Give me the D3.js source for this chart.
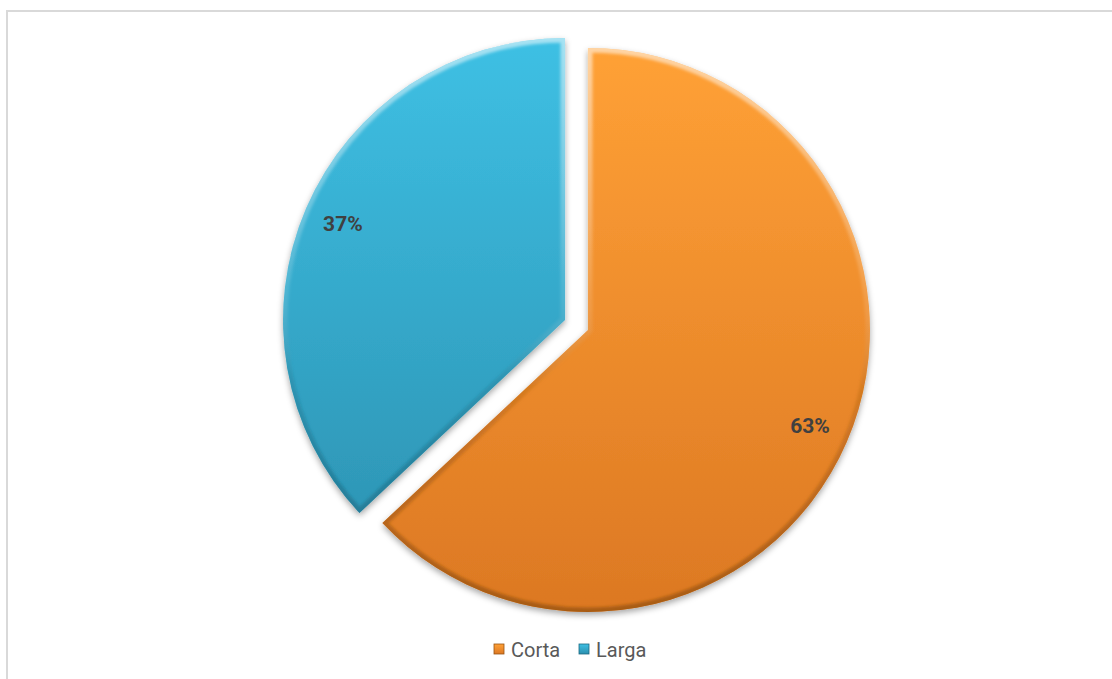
<!DOCTYPE html>
<html>
<head>
<meta charset="utf-8">
<script src="https://cdn.jsdelivr.net/npm/d3@7"></script>
<style>
  html, body { margin: 0; padding: 0; background: #fff; }
  svg { display: block; }
  .lbl { font-family: Roboto, "Liberation Sans", sans-serif; }
</style>
</head>
<body>
<svg id="chart" width="1112" height="679"></svg>
<script>
// Duración de la estancia
const categories = ["Corta", "Larga"];
const values = [63, 37];
const percentLabels = ["63%", "37%"];

const fillTop = ["#ffa136", "#3ec0e4"];
const fillBottom = ["#dc7823", "#2b8fae"];
const edgeDark = ["#9a5412", "#1c6a82"];

const W = 1112, H = 679;
const svg = d3.select("#chart");
const defs = svg.append("defs");

// chart area frame
svg.append("rect")
  .attr("x", 7).attr("y", 11)
  .attr("width", W + 10).attr("height", H + 10)
  .attr("fill", "#fff")
  .attr("stroke", "#d9d9d9").attr("stroke-width", 2);

const cx = 576.5, cy = 325, R = 282, explode = 12.5;

const pie = d3.pie().sort(null).value(d => d);
const arcs = pie(values);
const arc = d3.arc().innerRadius(0).outerRadius(R);
const labelArc = d3.arc().innerRadius(242).outerRadius(242);

// drop shadow
const sh = defs.append("filter").attr("id", "shadow")
  .attr("x", "-10%").attr("y", "-10%").attr("width", "120%").attr("height", "120%");
sh.append("feDropShadow").attr("dx", 0).attr("dy", 3).attr("stdDeviation", 3)
  .attr("flood-color", "#000").attr("flood-opacity", 0.35);

const blur = defs.append("filter").attr("id", "soft");
blur.append("feGaussianBlur").attr("stdDeviation", 1.6);

const g = svg.append("g");

arcs.forEach((a, i) => {
  const mid = (a.startAngle + a.endAngle) / 2;
  const ox = cx + explode * Math.sin(mid);
  const oy = cy - explode * Math.cos(mid);
  const sg = g.append("g").attr("transform", `translate(${ox},${oy})`);
  const d = arc(a);

  const grad = defs.append("linearGradient")
    .attr("id", "grad" + i)
    .attr("gradientUnits", "userSpaceOnUse")
    .attr("x1", 0).attr("y1", -R).attr("x2", 0).attr("y2", R);
  grad.append("stop").attr("offset", "0%").attr("stop-color", fillTop[i]);
  grad.append("stop").attr("offset", "100%").attr("stop-color", fillBottom[i]);

  const bev = defs.append("linearGradient")
    .attr("id", "bev" + i)
    .attr("gradientUnits", "userSpaceOnUse")
    .attr("x1", 0).attr("y1", -R).attr("x2", 0).attr("y2", R);
  bev.append("stop").attr("offset", "0%").attr("stop-color", "#ffffff").attr("stop-opacity", 0.55);
  bev.append("stop").attr("offset", "45%").attr("stop-color", "#ffffff").attr("stop-opacity", 0.12);
  bev.append("stop").attr("offset", "60%").attr("stop-color", edgeDark[i]).attr("stop-opacity", 0.25);
  bev.append("stop").attr("offset", "100%").attr("stop-color", edgeDark[i]).attr("stop-opacity", 0.8);

  defs.append("clipPath").attr("id", "clip" + i)
    .append("path").attr("d", d);

  sg.append("path").attr("d", d)
    .attr("fill", "url(#grad" + i + ")")
    .attr("filter", "url(#shadow)");

  // bevelled rim
  sg.append("path").attr("d", d)
    .attr("fill", "none")
    .attr("stroke", "url(#bev" + i + ")")
    .attr("stroke-width", 9)
    .attr("stroke-linejoin", "round")
    .attr("clip-path", "url(#clip" + i + ")")
    .attr("filter", "url(#soft)");

  const [lx, ly] = labelArc.centroid(a);
  sg.append("text").attr("class", "lbl")
    .attr("x", lx).attr("y", ly)
    .attr("text-anchor", "middle").attr("dominant-baseline", "central")
    .attr("font-size", 21).attr("font-weight", "bold")
    .attr("fill", "#404040")
    .text(percentLabels[i]);
});

// legend
const legendX = [494, 579];
const leg = svg.append("g");
categories.forEach((c, i) => {
  const lg = defs.append("linearGradient").attr("id", "lg" + i)
    .attr("x1", 0).attr("y1", 0).attr("x2", 0).attr("y2", 1);
  lg.append("stop").attr("offset", "0%").attr("stop-color", fillTop[i]);
  lg.append("stop").attr("offset", "100%").attr("stop-color", fillBottom[i]);
  leg.append("rect")
    .attr("x", legendX[i]).attr("y", 644)
    .attr("width", 10).attr("height", 10)
    .attr("fill", "url(#lg" + i + ")")
    .attr("stroke", edgeDark[i]).attr("stroke-width", 0.8);
  leg.append("text").attr("class", "lbl")
    .attr("x", legendX[i] + 17).attr("y", 657)
    .attr("font-size", 20)
    .attr("fill", "#595959")
    .text(c);
});
</script>
</body>
</html>
